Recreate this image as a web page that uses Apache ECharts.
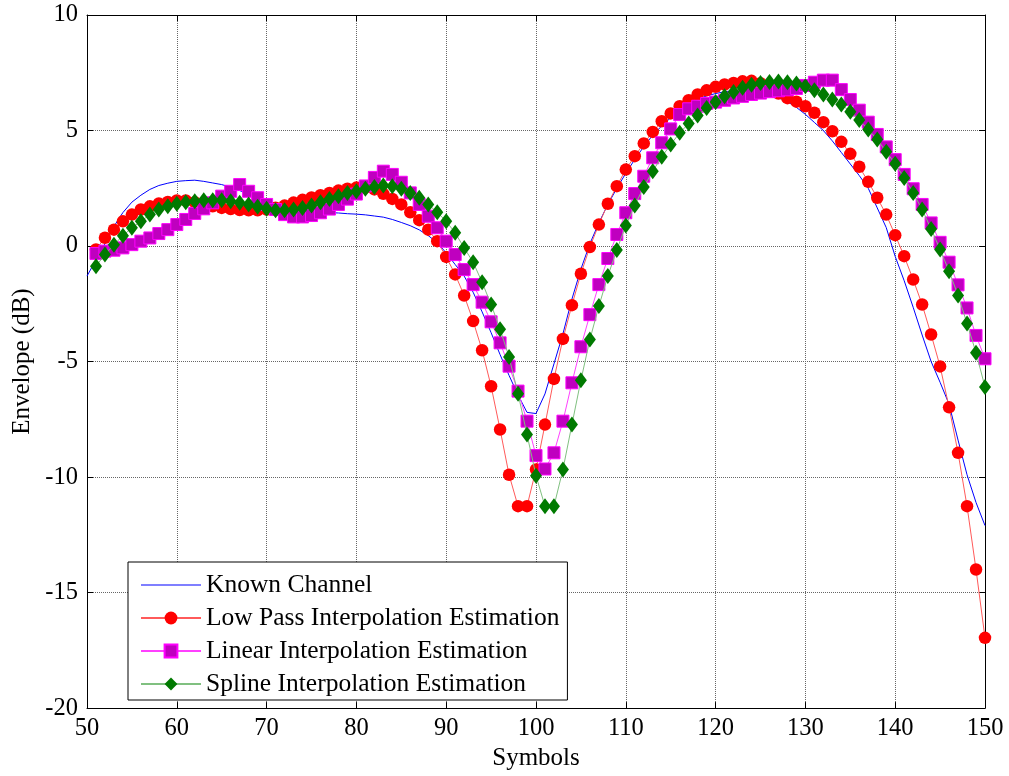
<!DOCTYPE html>
<html><head><meta charset="utf-8">
<script src="https://cdn.jsdelivr.net/npm/echarts@6/dist/echarts.min.js"></script>
<style>html,body{margin:0;padding:0;background:#fff}#c{width:1009px;height:776px}</style>
</head><body><div id="c"></div>
<script>
// x positions: Known Channel sampled at symbols 50..150, estimations at 51..150
const knownStartSymbol = 50;
const estStartSymbol = 51;
const seriesNames = ['Known Channel','Low Pass Interpolation Estimation','Linear Interpolation Estimation','Spline Interpolation Estimation'];
const xRange = [50, 150, 10];
const yRange = [-20, 10, 5];

const knownChannel = [
 -1.3,-0.6,0.1,0.85,1.45,1.9,2.2,2.45,2.62,2.72,
 2.8,2.83,2.85,2.8,2.73,2.66,2.55,2.4,2.25,2.08,
 1.9,1.75,1.65,1.58,1.52,1.5,1.48,1.45,1.43,1.4,
 1.38,1.35,1.3,1.25,1.15,1.02,0.88,0.7,0.45,0.15,
 -0.3,-0.8,-1.3,-2.0,-2.85,-3.75,-4.7,-5.6,-6.45,-7.2,
 -7.25,-6.4,-5.1,-3.8,-2.3,-1.0,0.1,1.0,1.8,2.5,
 3.15,3.75,4.3,4.8,5.2,5.55,5.85,6.1,6.35,6.5,
 6.6,6.68,6.72,6.72,6.68,6.6,6.52,6.42,6.25,6.0,
 5.7,5.35,5.0,4.55,4.05,3.55,3.05,2.5,1.65,0.8,
 -0.45,-1.5,-2.65,-3.85,-5.0,-5.9,-6.85,-8.4,-9.9,-11.1,
 -12.1
];
const lowPass = [
 -0.15,0.36,0.71,1.07,1.36,1.58,1.72,1.84,1.91,1.97,
 1.97,1.9,1.8,1.72,1.65,1.6,1.56,1.55,1.55,1.58,
 1.66,1.75,1.88,2.0,2.1,2.2,2.3,2.4,2.48,2.53,
 2.53,2.45,2.26,2.04,1.8,1.46,1.12,0.71,0.21,-0.47,
 -1.23,-2.14,-3.25,-4.51,-6.07,-7.94,-9.9,-11.26,-11.26,-9.67,
 -7.73,-5.75,-4.02,-2.56,-1.2,-0.04,0.93,1.83,2.59,3.31,
 3.89,4.44,4.94,5.4,5.74,6.05,6.31,6.56,6.74,6.89,
 6.99,7.06,7.13,7.15,7.05,6.85,6.6,6.4,6.25,6.05,
 5.77,5.36,4.97,4.51,3.99,3.43,2.78,2.09,1.36,0.47,
 -0.44,-1.45,-2.53,-3.83,-5.21,-6.98,-8.95,-11.26,-14.0,-16.96
];
const linearEst = [
 -0.32,-0.22,-0.18,-0.08,0.06,0.21,0.35,0.54,0.71,0.93,
 1.15,1.41,1.61,1.87,2.16,2.37,2.66,2.37,2.09,1.8,
 1.58,1.36,1.26,1.26,1.32,1.44,1.6,1.8,2.03,2.25,
 2.6,2.97,3.24,3.1,2.76,2.3,1.8,1.29,0.79,0.21,
 -0.37,-1.02,-1.67,-2.43,-3.28,-4.19,-5.2,-6.28,-7.58,-9.07,
 -9.65,-8.95,-7.58,-5.92,-4.36,-2.97,-1.67,-0.54,0.5,1.44,
 2.27,3.02,3.82,4.47,5.07,5.69,5.94,6.05,6.17,6.23,
 6.31,6.41,6.48,6.56,6.62,6.68,6.72,6.76,6.82,6.95,
 7.09,7.18,7.18,6.77,6.34,5.88,5.36,4.83,4.29,3.74,
 3.1,2.48,1.8,1.0,0.16,-0.7,-1.68,-2.68,-3.87,-4.88
];
const splineEst = [
 -0.87,-0.37,0.06,0.45,0.79,1.07,1.36,1.58,1.72,1.83,
 1.9,1.94,1.98,1.98,1.98,1.94,1.87,1.8,1.7,1.61,
 1.55,1.55,1.58,1.65,1.75,1.9,2.04,2.16,2.3,2.37,
 2.48,2.56,2.62,2.59,2.48,2.3,2.09,1.8,1.46,1.07,
 0.57,-0.08,-0.7,-1.57,-2.53,-3.6,-4.8,-6.39,-8.16,-9.94,
 -11.26,-11.26,-9.67,-7.73,-5.81,-4.05,-2.6,-1.3,-0.17,0.89,
 1.75,2.56,3.24,3.86,4.39,4.9,5.3,5.65,5.98,6.23,
 6.48,6.67,6.85,6.98,7.06,7.1,7.12,7.09,7.03,6.92,
 6.74,6.56,6.34,6.13,5.81,5.45,5.04,4.61,4.08,3.56,
 2.95,2.3,1.58,0.74,-0.15,-1.09,-2.14,-3.35,-4.62,-6.1
];

function pairs(start, vals){ return vals.map((v,i)=>[start+i, v]); }

const FONT = "'Liberation Serif','Times New Roman',serif";
const chart = echarts.init(document.getElementById('c'), null, {renderer:'canvas'});

const baseAxisLine = {show:true, onZero:false, lineStyle:{color:'#000', width:1}};
const tick = {show:true, inside:true, length:6, lineStyle:{color:'#000', width:1}};
// plain line icon for the Known Channel legend entry (tiny corner dots fix the box)
const lineIcon = 'path://M0 0h0.05v0.05H0z M0 7.4h60v1.2H0z M59.95 15.95h0.05v0.05h-0.05z';

chart.setOption({
  animation:false,
  backgroundColor:'#fff',
  grid:{left:87, right:24, top:15, bottom:66, containLabel:false},
  legend:{
    orient:'vertical', left:128, top:562,
    backgroundColor:'#fff', borderColor:'#000', borderWidth:1,
    padding:[10,8,3,12],
    itemWidth:60, itemHeight:16, itemGap:7,
    textStyle:{fontFamily:FONT, fontSize:25.5, color:'#000', lineHeight:24},
    data:[
      {name:seriesNames[0], icon:lineIcon, itemStyle:{color:'#0000ff'}},
      seriesNames[1], seriesNames[2], seriesNames[3]
    ]
  },
  xAxis:[{
    type:'value', min:xRange[0], max:xRange[1], interval:xRange[2],
    position:'bottom',
    name:'Symbols', nameLocation:'middle', nameGap:37,
    nameTextStyle:{fontFamily:FONT, fontSize:25, color:'#000'},
    axisLine:baseAxisLine, axisTick:tick,
    axisLabel:{fontFamily:FONT, fontSize:24.5, color:'#000', margin:8},
    splitLine:{show:true, lineStyle:{color:'#666', type:'dotted', width:1}}
  },{
    type:'value', min:xRange[0], max:xRange[1], interval:xRange[2],
    position:'top', axisLine:baseAxisLine, axisTick:tick,
    axisLabel:{show:false}, splitLine:{show:false}
  }],
  yAxis:[{
    type:'value', min:yRange[0], max:yRange[1], interval:yRange[2],
    position:'left',
    name:'Envelope (dB)', nameLocation:'middle', nameGap:52, nameRotate:90,
    nameTextStyle:{fontFamily:FONT, fontSize:25, color:'#000'},
    axisLine:baseAxisLine, axisTick:tick,
    axisLabel:{fontFamily:FONT, fontSize:24.5, color:'#000', margin:9},
    splitLine:{show:true, lineStyle:{color:'#666', type:'dotted', width:1}}
  },{
    type:'value', min:yRange[0], max:yRange[1], interval:yRange[2],
    position:'right', axisLine:baseAxisLine, axisTick:tick,
    axisLabel:{show:false}, splitLine:{show:false}
  }],
  series:[
    {name:seriesNames[0], type:'line', data:pairs(knownStartSymbol, knownChannel),
     symbol:'none', lineStyle:{color:'#0000ff', width:1}, itemStyle:{color:'#0000ff'}, z:2},
    {name:seriesNames[1], type:'line', data:pairs(estStartSymbol, lowPass),
     symbol:'circle', symbolSize:12.5, showAllSymbol:true,
     lineStyle:{color:'#ff5a5a', width:1}, itemStyle:{color:'#ff0000', borderColor:'#ff0000', borderWidth:0}, z:3},
    {name:seriesNames[2], type:'line', data:pairs(estStartSymbol, linearEst),
     symbol:'rect', symbolSize:12, showAllSymbol:true,
     lineStyle:{color:'#ff40ff', width:1}, itemStyle:{color:'#bf00bf', borderColor:'#ff00ff', borderWidth:1}, z:4},
    {name:seriesNames[3], type:'line', data:pairs(estStartSymbol, splineEst),
     symbol:'diamond', symbolSize:[12,16], showAllSymbol:true,
     lineStyle:{color:'#80c080', width:1}, itemStyle:{color:'#007a00', borderColor:'#007a00', borderWidth:0}, z:5}
  ]
});
</script>
</body></html>
